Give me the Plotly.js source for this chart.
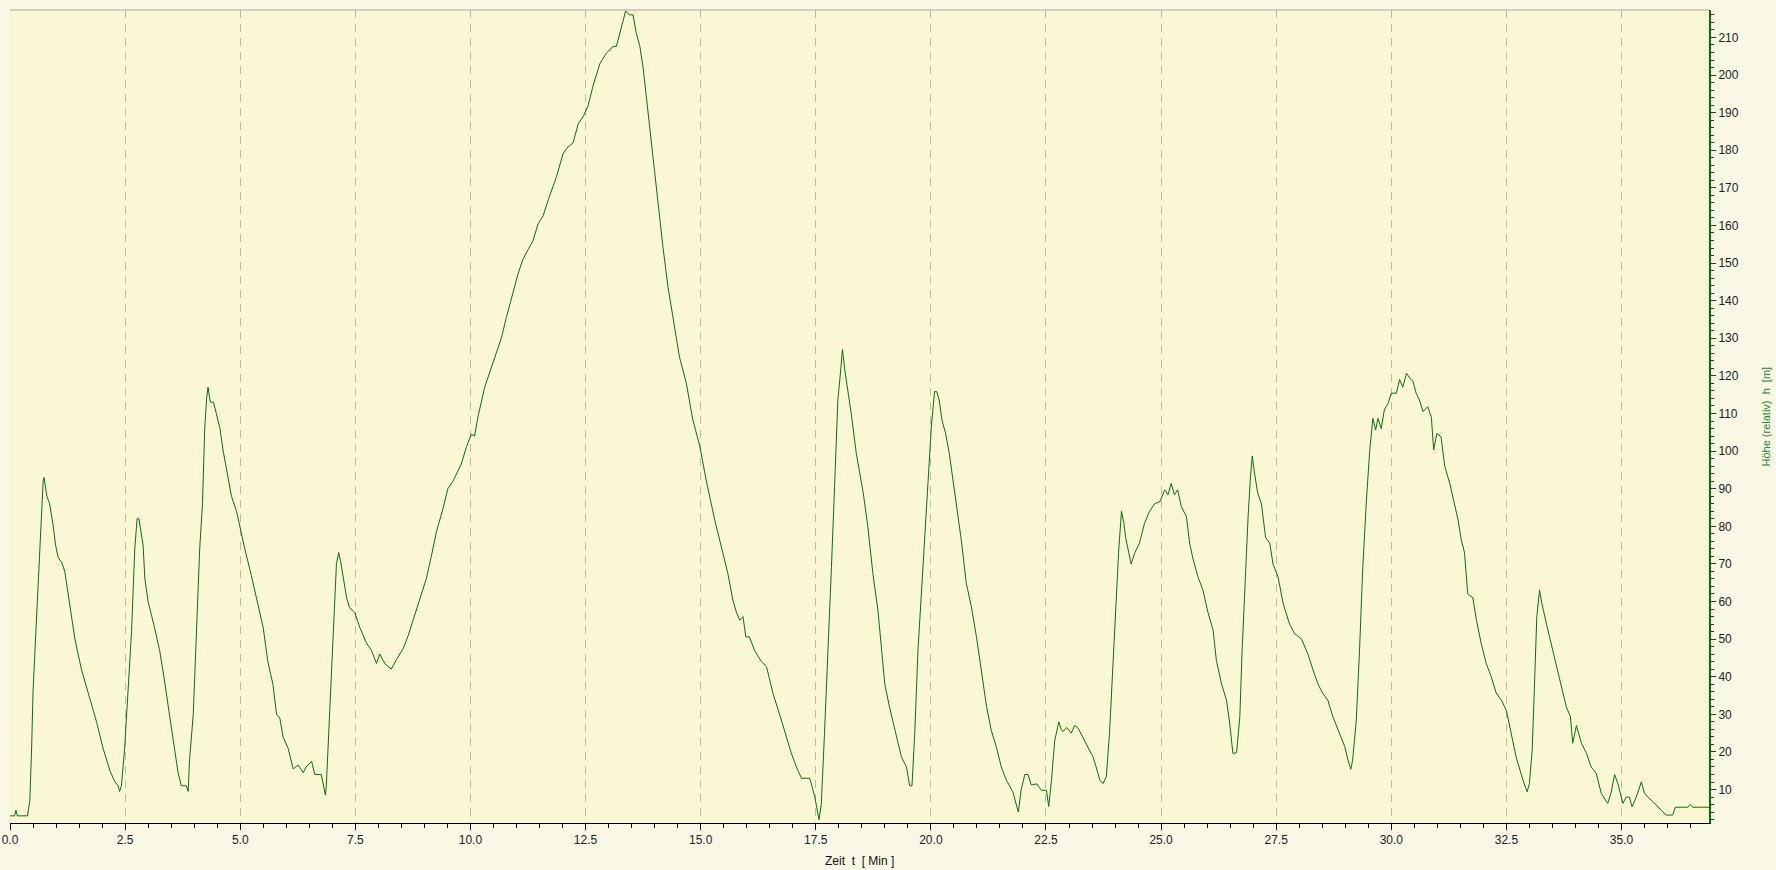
<!DOCTYPE html>
<html>
<head>
<meta charset="utf-8">
<script src="https://cdn.plot.ly/plotly-3.0.1.min.js"></script>
<style>
html,body{margin:0;padding:0;background:#F9F7E6;}
#chart{width:1776px;height:870px;}
</style>
</head>
<body>
<div id="chart"></div>
<script>
// Zeit t [Min]
const timeMin = [
0.00,0.10,0.13,0.16,0.38,0.41,0.43,0.47,0.50,0.57,0.63,0.68,0.72,0.74,0.77,0.80,0.86,0.94,0.99,1.04,
1.08,1.12,1.19,1.26,1.41,1.55,1.73,1.88,2.02,2.17,2.28,2.35,2.38,2.42,2.49,2.57,2.64,2.71,2.76,2.80,
2.85,2.89,2.93,3.00,3.14,3.25,3.33,3.43,3.54,3.65,3.72,3.83,3.87,3.90,3.98,4.05,4.12,4.18,4.23,4.27,
4.30,4.35,4.42,4.48,4.56,4.63,4.74,4.81,4.92,4.99,5.10,5.24,5.35,5.50,5.60,5.71,5.79,5.86,5.93,6.04,
6.15,6.26,6.37,6.43,6.55,6.62,6.76,6.85,6.87,6.94,7.02,7.09,7.14,7.19,7.31,7.37,7.49,7.60,7.74,7.85,
7.96,8.03,8.14,8.28,8.39,8.54,8.65,8.79,8.90,9.04,9.15,9.26,9.41,9.51,9.62,9.80,9.91,10.02,10.09,10.17,
10.31,10.42,10.53,10.67,10.78,10.93,11.03,11.14,11.25,11.36,11.47,11.58,11.69,11.87,12.01,12.09,12.23,12.34,12.45,12.55,
12.66,12.81,12.95,13.10,13.17,13.28,13.37,13.46,13.53,13.60,13.68,13.75,13.82,13.89,13.97,14.07,14.18,14.29,14.40,14.54,
14.69,14.83,14.98,15.12,15.30,15.34,15.59,15.70,15.78,15.85,15.92,15.98,16.06,16.17,16.32,16.43,16.57,16.72,16.86,16.97,
17.08,17.19,17.37,17.48,17.57,17.62,17.69,17.77,17.84,17.91,17.98,18.03,18.08,18.13,18.20,18.27,18.38,18.53,18.63,18.74,
18.85,18.93,19.00,19.10,19.25,19.36,19.47,19.54,19.59,19.65,19.72,19.83,19.94,20.01,20.08,20.13,20.18,20.24,20.32,20.40,
20.48,20.55,20.66,20.77,20.88,20.99,21.10,21.21,21.31,21.42,21.53,21.64,21.78,21.90,21.96,22.04,22.11,22.18,22.30,22.40,
22.51,22.56,22.62,22.69,22.78,22.83,22.87,22.95,23.05,23.12,23.19,23.30,23.41,23.52,23.59,23.67,23.74,23.81,23.88,23.95,
24.03,24.08,24.14,24.19,24.23,24.30,24.35,24.43,24.53,24.64,24.75,24.86,24.97,25.08,25.15,25.22,25.29,25.36,25.44,25.55,
25.62,25.69,25.80,25.91,26.02,26.13,26.20,26.31,26.42,26.49,26.56,26.64,26.71,26.76,26.82,26.89,26.94,26.98,27.03,27.10,
27.18,27.27,27.36,27.43,27.54,27.65,27.79,27.90,28.05,28.19,28.30,28.41,28.51,28.62,28.73,28.88,28.99,29.06,29.12,29.16,
29.24,29.31,29.38,29.46,29.53,29.60,29.66,29.71,29.78,29.85,29.93,30.00,30.11,30.18,30.25,30.33,30.40,30.47,30.54,30.61,
30.69,30.79,30.87,30.92,30.99,31.08,31.16,31.27,31.37,31.45,31.52,31.59,31.66,31.77,31.85,31.95,32.06,32.17,32.28,32.39,
32.50,32.60,32.71,32.86,32.95,33.00,33.06,33.11,33.16,33.22,33.27,33.37,33.47,33.58,33.69,33.80,33.89,33.94,34.02,34.13,
34.24,34.34,34.45,34.56,34.70,34.77,34.85,34.92,35.03,35.10,35.17,35.23,35.32,35.43,35.50,35.57,35.68,35.79,35.90,35.97,
36.11,36.17,36.44,36.49,36.55,36.91
];
// Höhe (relativ) h [m]
const heightM = [
3,3,4.5,3,3,5,7,21,36,54,68,83,92,93,91,88,86,80,75,72,
71,70.5,68,62,50,42,34,28,21,15,12,11,9.5,11,21,39,52,74,82,82,
78,75,66,60,53,47,41,33,23,14.5,11,11,9.5,18,30,51,74,86,106,114,
117,113,113,110,106,100,92,88,84,80,74,67,61,53,44,38,30,29,24,21,
15.5,16.5,14.5,16,17.5,14,14,8.5,11,30,51,70,73,70,61,58.5,57,53,49,47,
43.5,46,43.5,42,44.5,47.5,51,56.5,60.5,66,72,78.5,85,90,92,96.5,101,104.5,104,109.5,
117,121,124.5,130,135.5,142.5,147,151,153.6,156,160.5,162.6,166.8,173,179,180.5,182,187,189,191.6,
197,203,205.8,207.6,207.6,213,217,216,216,211.3,207.6,202,194.3,186.3,176.5,165,154.4,143.7,135,125,
118,108.3,101.4,92.3,82,80,67.5,60.4,57,55,56,50.6,50.6,47,44,42.7,35.6,29.8,24,19.6,
16,13,13,8,2,6,25,47,69,91,113.6,120,127,121.6,116,110,99.4,89,80,67.5,
57.7,47,38,32,24,18.7,16,11,11,25,47,69,94,106.5,115.8,115.8,113.6,108.3,104.7,99.4,
92.3,86,76.4,64.8,58.6,50.6,41,32,25.8,21.4,16,12.5,9.4,4,9.8,14,14,11.2,11.5,9.8,
9.8,5.5,12.5,23,28,26,25.4,26.5,25,27,26.5,24,21.4,18.7,16,12.5,11.6,13.4,25,42.7,
60.4,73.7,84,81,77,73,70,73,75.5,80.8,84,86,86.5,89.7,88.4,91.4,88.4,89.7,85.2,82.6,
75.5,71.5,66.6,63,57,52.4,44.4,38.2,33.8,27.6,19.6,19.8,29.4,47,65,82.6,93,98.7,94,88.8,
86,77,75.5,70,66.6,59.5,54,51.5,50,46,41.8,38,35.6,33.8,29.4,25,21.4,17.8,15.4,17.8,
28.5,47,69,87,100,108.7,105.6,108.7,106,111,112.7,115.4,115.4,119,117,120.7,119.4,118.6,115.4,113.6,
110.5,111.8,109,100.3,104.7,103.8,96,91.4,86,81.7,76.4,73,62,61,55,49,43.6,40,35.6,33.8,
31,25,18.7,12.5,9.4,11.6,20.5,38,56,63,59.5,54,49,42.7,37.3,32,29.4,22.3,27,22.3,
19.6,16,14.3,9,6.3,9,14,11.6,6.3,8,8,5.4,8,12,9,8,6.8,5.4,4,3.2,
3.2,5.3,5.3,6,5.3,5.3
];
const xTickVals = [0,2.5,5,7.5,10,12.5,15,17.5,20,22.5,25,27.5,30,32.5,35];
const xTitle = 'Zeit\u00A0\u00A0t\u00A0\u00A0[\u00A0Min\u00A0]';
const yTitle = 'Höhe\u00A0(relativ)\u00A0\u00A0h\u00A0\u00A0[m]';

const trace = {
  x: timeMin, y: heightM, type: 'scatter', mode: 'lines',
  line: {color: '#0E6E0E', width: 1},
  hoverinfo: 'skip'
};

const layout = {
  width: 1776, height: 870,
  margin: {l: 10, r: 67, t: 10, b: 47},
  paper_bgcolor: '#F9F7E6',
  plot_bgcolor: '#FAF7D4',
  showlegend: false,
  font: {family: 'Liberation Sans, Arial, sans-serif', size: 12, color: '#222'},
  xaxis: {
    range: [0, 36.9],
    tickvals: xTickVals,
    tickformat: '.1f',
    ticks: 'outside', ticklen: 6, tickcolor: '#000', tickwidth: 1,
    showline: true, linecolor: '#000', linewidth: 1,
    showgrid: true, gridcolor: '#BDBAA8', griddash: '8px,6px', gridwidth: 1,
    minor: {dtick: 0.5, tick0: 0, ticks: 'outside', ticklen: 4, tickcolor: '#000', showgrid: false},
    zeroline: false,
    tickfont: {size: 12, color: '#222'},
    fixedrange: true
  },
  yaxis: {
    side: 'right',
    range: [1.1, 217.3],
    dtick: 10, tick0: 0,
    ticks: 'outside', ticklen: 5, tickcolor: '#1C4A1C', tickwidth: 1,
    showline: true, linecolor: '#0A6A0A', linewidth: 2,
    showgrid: false, zeroline: false,
    minor: {dtick: 2, tick0: 0, ticks: 'outside', ticklen: 3, tickcolor: '#1C4A1C', showgrid: false},
    tickfont: {size: 12, color: '#222'},
    fixedrange: true
  },
  shapes: [
    {type: 'line', xref: 'paper', yref: 'paper', x0: 0, x1: 1, y0: 1, y1: 1,
     line: {color: '#A8A69A', width: 1}}
  ],
  annotations: [
    {text: xTitle, xref: 'paper', yref: 'paper', x: 0.5, y: 0, yshift: -38,
     xanchor: 'center', yanchor: 'middle', showarrow: false,
     font: {size: 12, color: '#111'}},
    {text: yTitle, xref: 'paper', yref: 'paper', x: 1, xshift: 56, y: 0.5,
     xanchor: 'center', yanchor: 'middle', textangle: -90, showarrow: false,
     font: {size: 11, color: '#2A8A2A'}}
  ]
};

Plotly.newPlot('chart', [trace], layout, {displayModeBar: false, staticPlot: true});
</script>
</body>
</html>
